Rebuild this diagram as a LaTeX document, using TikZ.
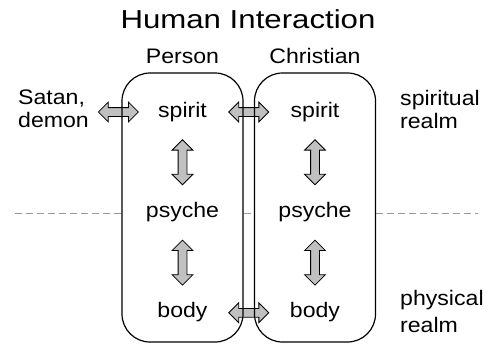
\documentclass[tikz,border=0pt]{standalone}
\usepackage{fontspec}
\setmainfont[FakeStretch=1.1]{Liberation Sans}
\newfontfamily\titlefont[FakeStretch=1.2]{Liberation Sans}
\usepackage{tikz}
\usetikzlibrary{positioning,calc,shapes.arrows,backgrounds}
\definecolor{ArrowGray}{HTML}{C0C0C0}
\definecolor{DivGray}{HTML}{9A9A9A}

\begin{document}
\begin{tikzpicture}[x=1pt,y=-1pt,node distance=80pt,font=\fontsize{21}{23}\selectfont]
\tikzstyle{being}=[rectangle,rounded corners=28pt,draw,line width=1.2pt,minimum width=121pt,minimum height=269pt,inner sep=0pt]
\tikzstyle{part}=[inner sep=0pt,text height=15pt,text depth=5pt]
\tikzstyle{side}=[inner sep=0pt,align=left,anchor=north west]
\tikzstyle{harrow}=[double arrow,draw,fill=ArrowGray,line width=0.8pt,inner xsep=0pt,inner ysep=4pt,minimum width=19pt,minimum height=40pt,double arrow head extend=5.5pt]
\tikzstyle{varrow}=[harrow,rotate=90,minimum width=20pt,minimum height=45pt,double arrow head extend=6pt]
\tikzstyle{divider}=[DivGray,line width=1pt,dash pattern=on 7pt off 4pt]
\useasboundingbox (0,0) rectangle (494,343);
\node[anchor=base] (title) at (248,28) {\titlefont\fontsize{26}{30}\selectfont Human Interaction};
% the two beings
\node[being] (person) at (182.5,207.5) {};
\node[being] (christian) at (315,207.5) {};
\node[part,above=4pt of person] (personlbl) {Person};
\node[part,above=4pt of christian] (christianlbl) {Christian};
\coordinate (gap) at ($(person.east)!0.5!(christian.west)$);
% parts of each being
\node[part] (spirit1) at (182.5,112) {spirit};
\node[part,below=of spirit1] (psyche1) {psyche};
\node[part,below=of psyche1] (body1) {body};
\node[part] (spirit2) at (315,112) {spirit};
\node[part,below=of spirit2] (psyche2) {psyche};
\node[part,below=of psyche2] (body2) {body};
% realms
\node[side] (evil) at (18,90) {Satan,\\demon};
\node[side] (spiritual) at (400,90) {spiritual\\realm};
\node[side] (physical) at (400,290) {physical\\[4pt]realm};
\coordinate (divL) at (15,213);
\coordinate (divR) at (478,213);
\begin{scope}[on background layer]
\draw[divider] (divL) -- (divL -| person.west);
\draw[divider] (divL -| person.east) -- (divL -| christian.west);
\draw[divider] (divL -| christian.east) -- (divR);
\node[harrow,xshift=-3pt] (demonlink) at (person.west |- spirit1) {};
\node[harrow] (spiritlink) at (gap |- spirit1) {};
\node[harrow] (bodylink) at (gap |- body1) {};
\node[varrow] (sp1) at ($(spirit1)!0.5!(psyche1)$) {};
\node[varrow] (pb1) at ($(psyche1)!0.5!(body1)$) {};
\node[varrow] (sp2) at ($(spirit2)!0.5!(psyche2)$) {};
\node[varrow] (pb2) at ($(psyche2)!0.5!(body2)$) {};
\end{scope}
\end{tikzpicture}
\end{document}
